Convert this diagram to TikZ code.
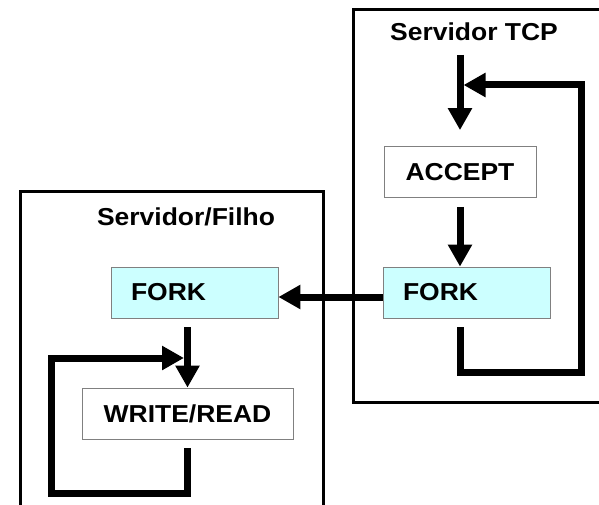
\documentclass[tikz,border=0pt]{standalone}
\usepackage{fontspec}
\setmainfont{Liberation Sans}[FakeStretch=1.08]
\usetikzlibrary{arrows.meta,calc}
\definecolor{forkcyan}{HTML}{CCFFFF}
\tikzset{
    stepbox/.style={draw=gray,line width=0.8pt,minimum height=51pt,inner sep=0pt,
        font=\fontsize{24.5}{28}\selectfont\bfseries},
    forkbox/.style={stepbox,fill=forkcyan,text width=127pt,inner xsep=20pt,align=left},
    flow/.style={line width=7pt,-{Triangle[length=22pt,width=23pt]}},
    frame/.style={line width=3pt},
    title/.style={font=\fontsize{24.5}{28}\selectfont\bfseries,anchor=base}
}
\begin{document}
\begin{tikzpicture}[x=1pt,y=-1pt]
    \useasboundingbox (0,0) rectangle (599,505);
    % the two processes
    \draw[frame] (599,9.5) -| (353,402) -- (599,402);
    \draw[frame] (20,505) |- (323,191) -- (323,505);

    \node[title] (tcp) at (474,41) {Servidor TCP};
    \node[title] (filho) at (186,225) {Servidor/Filho};

    \node[stepbox,minimum width=152pt] (accept) at (460,172) {ACCEPT};
    \node[forkbox] (forkpai) at (466.5,292.5) {FORK};
    \node[forkbox] (forkfilho) at (194.5,292.5) {FORK};
    \node[stepbox,minimum width=211pt] (wr) at (187.5,413.5) {WRITE/READ};

    \coordinate (entra) at (460,55);
    \coordinate (rb) at (581,372);
    \coordinate (rt) at (581,85);
    \coordinate (lb) at (51,493);
    \coordinate (lt) at (51,358);

    % server loop
    \draw[flow,shorten >=16pt] (entra) -- (accept.north);
    \draw[flow,shorten <=9pt] (accept.south) -- (accept.south |- forkpai.north);
    \draw[flow,shorten <=9pt] (accept.south |- forkpai.south) -- (accept.south |- rb)
        -- (rb) -- (rt) -- ($(entra |- rt)+(3.5,0)$);
    \draw[flow] ([yshift=-4.5pt]forkpai.west) -- ([yshift=-4.5pt]forkfilho.east);

    % child loop
    \draw[flow,shorten <=9pt] (wr.north |- forkfilho.south) -- (wr.north);
    \draw[flow,shorten <=9pt] (wr.south) -- (wr.south |- lb) -- (lb) -- (lt)
        -- ($(wr.north |- lt)+(-3.5,0)$);
\end{tikzpicture}
\end{document}
